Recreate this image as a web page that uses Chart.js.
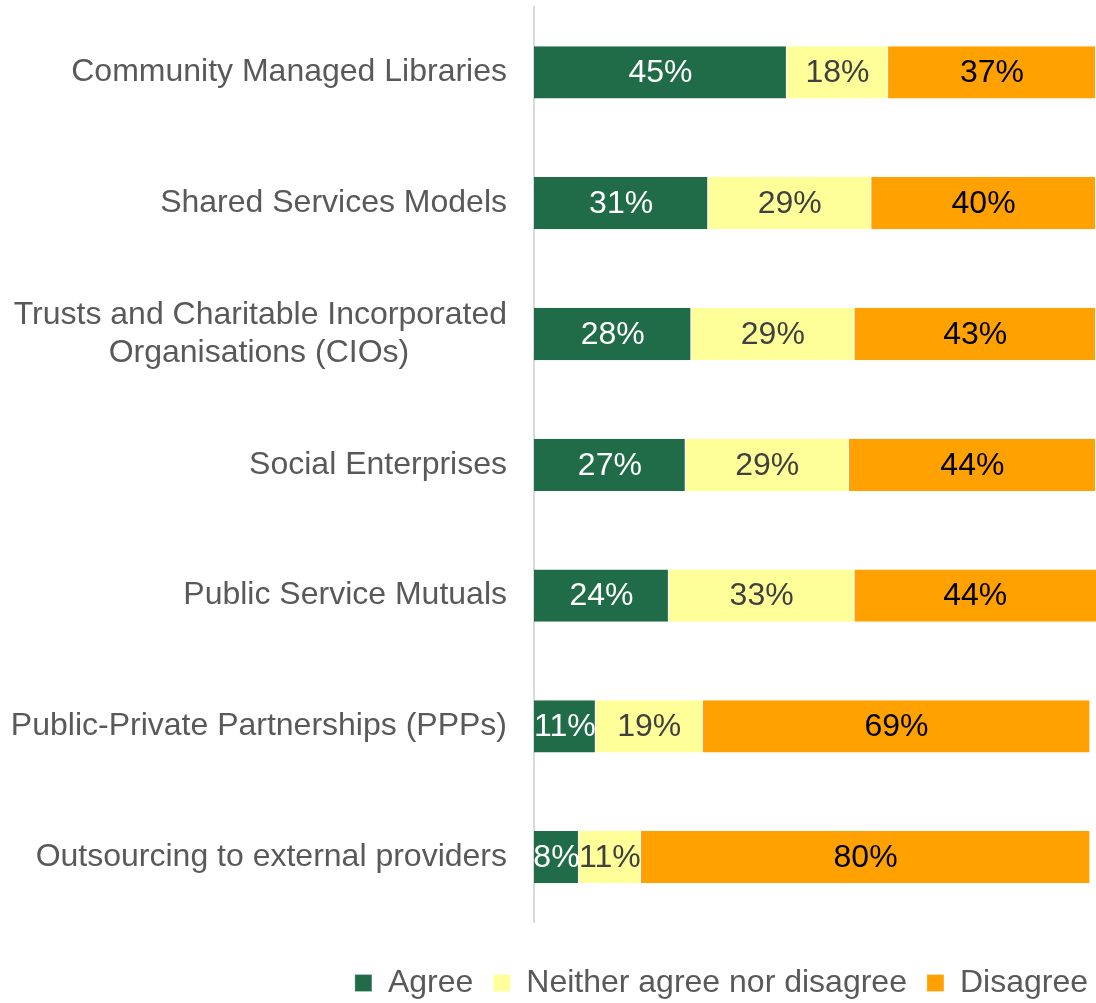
<!DOCTYPE html>
<html>
<head>
<meta charset="utf-8">
<title>Alternative delivery models</title>
<script src="https://cdn.jsdelivr.net/npm/chart.js@4.4.1/dist/chart.umd.min.js"></script>
<style>
  html, body { margin: 0; padding: 0; background: #ffffff; }
  #wrap { position: relative; width: 1096px; height: 1003px; }
</style>
</head>
<body>
<div id="wrap"><canvas id="modelsChart"></canvas></div>
<script>
// categories (second line of the CIO label padded so it sits centred under the first)
var categories = [
  "Community Managed Libraries",
  "Shared Services Models",
  ["Trusts and Charitable Incorporated", "Organisations (CIOs)           "],
  "Social Enterprises",
  "Public Service Mutuals",
  "Public-Private Partnerships (PPPs)",
  "Outsourcing to external providers"
];

var agree    = [45, 31, 28, 27, 24, 11, 8];
var neither  = [18, 29, 29, 29, 33, 19, 11];
var disagree = [37, 40, 43, 44, 44, 69, 80];

var seriesNames = ["Agree", "Neither agree nor disagree", "Disagree"];

var FONT = '"Liberation Sans", Arial, Helvetica, sans-serif';

// écrit la valeur au centre de chaque segment
var valueLabels = {
  id: "valueLabels",
  afterDatasetsDraw: function (chart) {
    var ctx = chart.ctx;
    var colors = ["#ffffff", "#404040", "#000000"];
    ctx.save();
    ctx.font = "32px " + FONT;
    ctx.textAlign = "center";
    ctx.textBaseline = "middle";
    chart.data.datasets.forEach(function (ds, i) {
      var meta = chart.getDatasetMeta(i);
      ctx.fillStyle = colors[i];
      meta.data.forEach(function (bar, j) {
        var right = Math.min(bar.x, chart.chartArea.right);
        var cx = (right + bar.base) / 2;
        ctx.fillText(ds.data[j] + "%", cx, bar.y + 1);
      });
    });
    ctx.restore();
  }
};

// pousse la légende vers le bord droit (sans le padding final)
var legendNudge = {
  id: "legendNudge",
  afterLayout: function (chart) {
    if (!chart.legend) return;
    chart.legend.left += 12;
    chart.legend.right += 12;
  }
};

window.onload = function () {
  if (typeof Chart === "undefined") {
    console.error("Chart.js not loaded");
    return;
  }

  Chart.defaults.font.family = FONT;
  Chart.defaults.color = "#595959";

  var ctx = document.getElementById("modelsChart");

  new Chart(ctx, {
    type: "bar",
    data: {
      labels: categories,
      datasets: [
        { label: seriesNames[0], data: agree,    backgroundColor: "#216c48" },
        { label: seriesNames[1], data: neither,  backgroundColor: "#ffff99" },
        { label: seriesNames[2], data: disagree, backgroundColor: "#ffa100" }
      ]
    },
    options: {
      indexAxis: "y",
      responsive: true,
      maintainAspectRatio: false,
      animation: false,
      datasets: {
        bar: {
          categoryPercentage: 0.4,
          barPercentage: 1.0,
          borderColor: "#ffffff",
          borderWidth: { right: 1 },
          borderSkipped: false
        }
      },
      layout: {
        padding: { top: 7, right: 0, bottom: -6, left: 0 }
      },
      scales: {
        x: {
          stacked: true,
          min: 0,
          max: 100,
          display: false
        },
        y: {
          stacked: true,
          grid: { display: false, drawTicks: false },
          border: { display: true, color: "#d9d9d9", width: 2 },
          ticks: {
            color: "#595959",
            font: { size: 32 },
            padding: 27
          },
          afterFit: function (scale) {
            // fixed label column, no extra room above/below the bars
            scale.width = 534;
            scale.paddingTop = 0;
            scale.paddingBottom = 0;
          }
        }
      },
      plugins: {
        legend: {
          position: "bottom",
          align: "end",
          title: {
            display: true,
            text: "",
            font: { size: 2 },
            padding: 11
          },
          labels: {
            color: "#595959",
            font: { size: 32 },
            boxWidth: 17,
            boxHeight: 17,
            padding: 20
          }
        },
        tooltip: { enabled: false }
      }
    },
    plugins: [valueLabels, legendNudge]
  });
};
</script>
</body>
</html>
